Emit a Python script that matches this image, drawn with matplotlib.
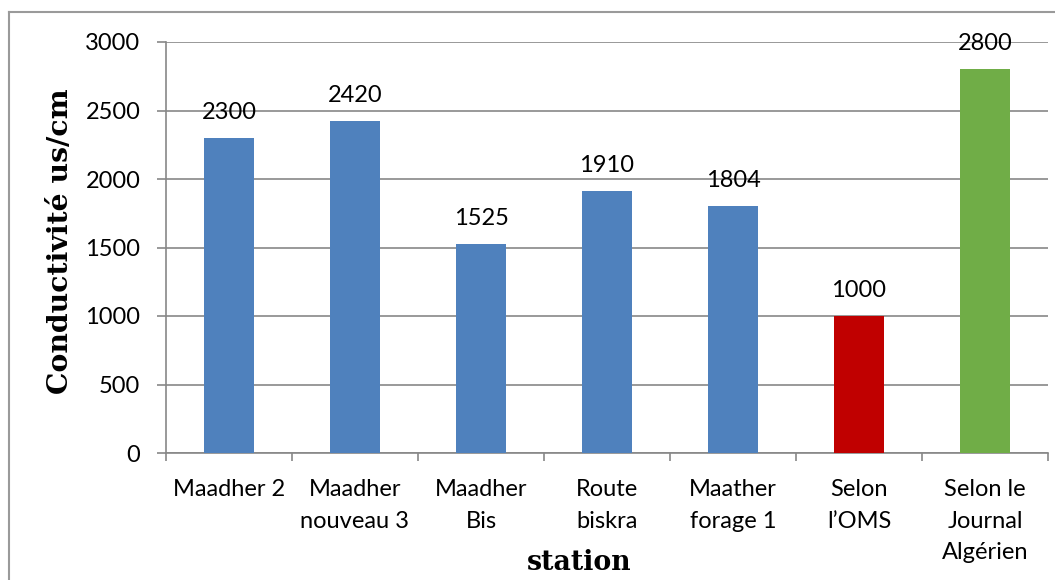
import matplotlib
matplotlib.use("Agg")
import matplotlib.pyplot as plt
from matplotlib.lines import Line2D

categories = ["Maadher 2", "Maadher\nnouveau 3", "Maadher\nBis", "Route\nbiskra",
              "Maather\nforage 1", "Selon\nl\u2019OMS", "Selon le\nJournal\nAlgérien"]
values = [2300, 2420, 1525, 1910, 1804, 1000, 2800]
colors = ["#4F81BD"] * 5 + ["#C00000", "#70AD47"]
yticks = [0, 500, 1000, 1500, 2000, 2500, 3000]

W, H = 1055, 580
x0, x1, y0, y1 = 166, 1048, 42, 453
fig = plt.figure(figsize=(W / 100, H / 100), dpi=100)
ax = fig.add_axes([x0 / W, 1 - y1 / H, (x1 - x0) / W, (y1 - y0) / H])

font = ["Lato", "DejaVu Sans"]
fs = 17
x = list(range(len(categories)))
ax.bar(x, values, width=0.39, color=colors, zorder=3)
for xi, v in zip(x, values):
    ax.annotate(str(v), (xi, v), xytext=(0, 18.5), textcoords="offset points",
                ha="center", va="center", fontsize=fs, family=font, color="black", zorder=4)

ax.set_xlim(-0.5, len(categories) - 0.5)
ax.set_ylim(0, 3000)
ax.set_yticks(yticks)
ax.set_yticklabels([str(t) for t in yticks], family=font, fontsize=fs)
ax.yaxis.grid(True, color="#878787", linewidth=1.2, zorder=0)
ax.set_xticks(x)
ax.set_xticklabels(categories, family=font, fontsize=fs, linespacing=1.6, va="top")
ax.set_xticks([i - 0.5 for i in range(len(categories) + 1)], minor=True)
ax.tick_params(axis="x", which="major", length=0, pad=19)
ax.tick_params(axis="x", which="minor", length=6, color="#878787", width=1.2)
ax.tick_params(axis="y", length=6.5, color="#878787", width=1.2, pad=12)

for s in ["top", "right"]:
    ax.spines[s].set_visible(False)
for s in ["left", "bottom"]:
    ax.spines[s].set_color("#878787")
    ax.spines[s].set_linewidth(1.2)

ax.set_ylabel("Conductivité us/cm", family=["DejaVu Serif"], fontweight="bold", fontsize=20.3,
              va="center", ha="center")
ax.yaxis.set_label_coords((61 - x0) / (x1 - x0), (y1 - 241) / (y1 - y0))
ax.set_xlabel("station", family=["DejaVu Serif"], fontweight="bold", fontsize=19.3,
              va="center", ha="center")
ax.xaxis.set_label_coords((579 - x0) / (x1 - x0), (y1 - 562) / (y1 - y0))

fig.add_artist(Line2D([9 / W, 9 / W], [0, 1 - 12 / H], color="#9a9a9a", linewidth=1.5, transform=fig.transFigure))
fig.add_artist(Line2D([9 / W, 1], [1 - 12 / H, 1 - 12 / H], color="#9a9a9a", linewidth=1.5, transform=fig.transFigure))

fig.savefig("out.png", dpi=100, facecolor="white")
